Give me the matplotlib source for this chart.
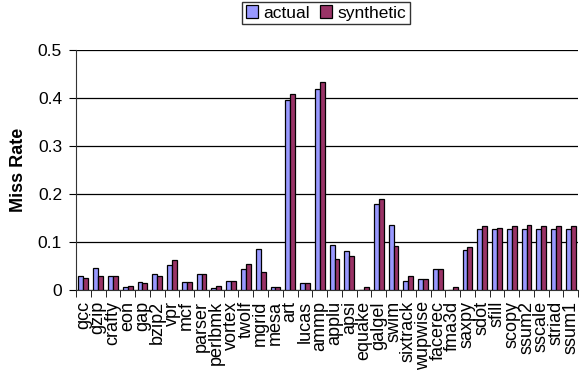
import numpy as np
import matplotlib
matplotlib.use("Agg")
from matplotlib import pyplot as plt

plt.rcParams['font.family'] = ['Liberation Sans', 'DejaVu Sans']

benchmarks = ["gcc", "gzip", "crafty", "eon", "gap", "bzip2", "vpr", "mcf",
              "parser", "perlbmk", "vortex", "twolf", "mgrid", "mesa", "art",
              "lucas", "ammp", "applu", "apsi", "equake", "galgel", "swim",
              "sixtrack", "wupwise", "facerec", "fma3d", "saxpy", "sdot",
              "sfill", "scopy", "ssum2", "sscale", "striad", "ssum1"]

actual = [0.028, 0.046, 0.028, 0.0055, 0.017, 0.033, 0.052, 0.017,
          0.033, 0.0035, 0.019, 0.044, 0.086, 0.0055, 0.396,
          0.014, 0.418, 0.094, 0.081, 0.0, 0.180, 0.135,
          0.019, 0.022, 0.043, 0.0, 0.083, 0.127,
          0.127, 0.127, 0.127, 0.127, 0.127, 0.127]

synthetic = [0.025, 0.028, 0.028, 0.008, 0.0145, 0.030, 0.062, 0.017,
             0.033, 0.009, 0.019, 0.054, 0.038, 0.0055, 0.409,
             0.014, 0.434, 0.065, 0.0705, 0.0055, 0.190, 0.091,
             0.028, 0.022, 0.043, 0.0055, 0.0885, 0.133,
             0.130, 0.133, 0.136, 0.133, 0.133, 0.133]

x = np.arange(len(benchmarks))
w = 0.33

fig = plt.figure(figsize=(5.8, 3.77), dpi=100)
ax = fig.add_axes([0.131, 0.231, 0.866, 0.636])

ax.bar(x - w/2, actual, w, color='#9999FF', edgecolor='black', linewidth=0.9,
       label='actual', zorder=3)
ax.bar(x + w/2, synthetic, w, color='#993366', edgecolor='black', linewidth=0.9,
       label='synthetic', zorder=3)

ax.set_xlim(-0.5, len(benchmarks) - 0.5)
ax.set_ylim(0, 0.5)
ax.set_yticks([0, 0.1, 0.2, 0.3, 0.4, 0.5])
ax.set_yticklabels(["0", "0.1", "0.2", "0.3", "0.4", "0.5"], fontsize=12.5)
ax.yaxis.grid(True, color='black', linewidth=0.9, zorder=0)
ax.set_axisbelow(True)

# labels centred on each benchmark, tick marks between them
ax.set_xticks(x)
ax.set_xticklabels(benchmarks, rotation=90, fontsize=13)
ax.set_xticks(np.arange(-0.5, len(benchmarks)), minor=True)
ax.tick_params(axis='x', which='major', length=0, pad=8)
ax.tick_params(axis='x', which='minor', length=5, direction='out')
ax.tick_params(axis='y', length=5, direction='out', pad=5)

for s in ['top', 'right']:
    ax.spines[s].set_visible(False)
ax.spines['left'].set_color('#333333')
ax.spines['bottom'].set_color('#333333')

ax.set_ylabel("Miss Rate", fontsize=13, fontweight='bold')
ax.yaxis.set_label_coords(-0.098, 0.5)

fig.legend(loc='upper center', bbox_to_anchor=(0.562, 0.995), ncol=2,
           fontsize=12.5, frameon=True, fancybox=False, edgecolor='black',
           handlelength=0.7, handleheight=0.7, handletextpad=0.3,
           columnspacing=0.6, borderpad=0.2, borderaxespad=0.0)

fig.savefig("out.png", dpi=100)
